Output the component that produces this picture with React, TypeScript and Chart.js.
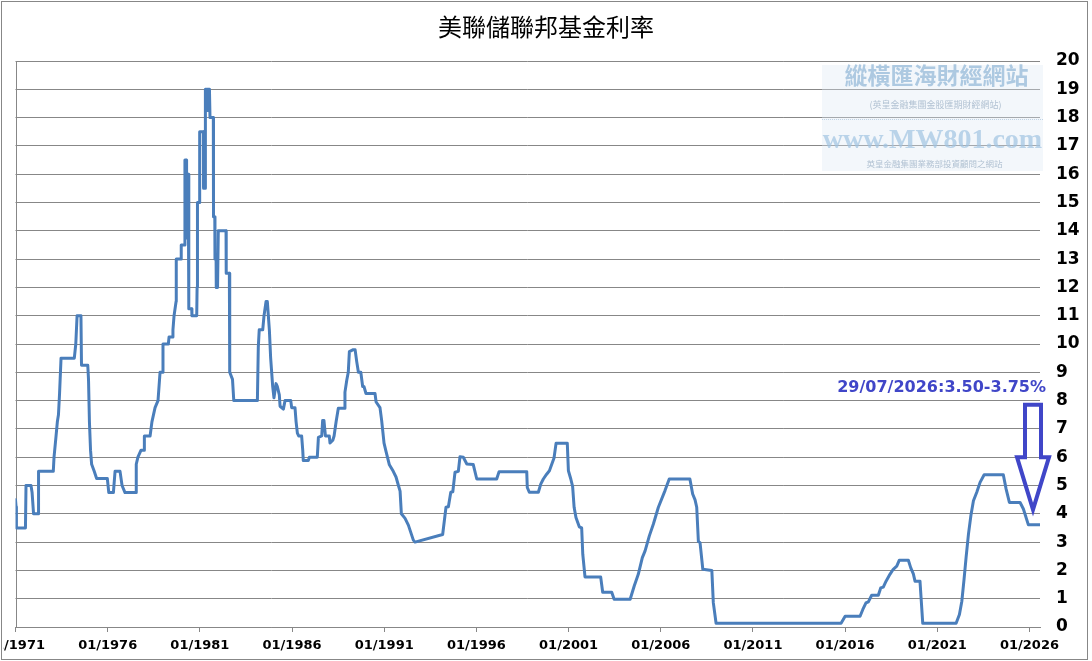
import React, { useEffect, useRef } from 'react';
import { Chart, registerables } from 'chart.js';

Chart.register(...registerables);

const TITLE = '美聯儲聯邦基金利率';
const ANNOTATION = '29/07/2026:3.50-3.75%';
const WM_TITLE = '縱橫匯海財經網站';
const WM_SUB1 = '(英皇金融集團金股匯期財經網站)';
const WM_URL = 'www.MW801.com';
const WM_SUB2 = '英皇金融集團業務部投資顧問之網站';

const tickYears = [1971, 1976, 1981, 1986, 1991, 1996, 2001, 2006, 2011, 2016, 2021, 2026];
const xMin = 1971;
const xMax = 2026.57;
const yMin = 0;
const yMax = 20;

// decimal years
const dates = [
  1971.0, 1971.03, 1971.05, 1971.54, 1971.57, 1971.84, 1971.9, 1971.98, 1972.24, 1972.25,
  1973.05, 1973.09, 1973.2, 1973.27, 1973.33, 1973.39, 1973.47, 1974.19, 1974.27, 1974.34,
  1974.55, 1974.58, 1974.92, 1974.96, 1975.01, 1975.07, 1975.13, 1975.27, 1975.4, 1975.98,
  1976.06, 1976.31, 1976.4, 1976.67, 1976.78, 1976.94, 1977.54, 1977.55, 1977.64, 1977.81,
  1977.97, 1977.99, 1978.3, 1978.4, 1978.57, 1978.73, 1978.84, 1978.98, 1979.0, 1979.29,
  1979.33, 1979.53, 1979.54, 1979.6, 1979.71, 1979.72, 1979.98, 1979.99, 1980.16, 1980.19,
  1980.25, 1980.28, 1980.32, 1980.37, 1980.4, 1980.56, 1980.57, 1980.83, 1980.85, 1980.87,
  1980.97, 1980.99, 1981.19, 1981.2, 1981.28, 1981.3, 1981.36, 1981.39, 1981.41, 1981.52,
  1981.55, 1981.73, 1981.74, 1981.81, 1981.82, 1981.88, 1981.89, 1981.96, 1982.0, 1982.42,
  1982.43, 1982.6, 1982.62, 1982.77, 1982.84, 1984.12, 1984.17, 1984.22, 1984.41, 1984.48,
  1984.59, 1984.66, 1984.77, 1984.84, 1984.95, 1985.02, 1985.13, 1985.2, 1985.31, 1985.35,
  1985.53, 1985.62, 1985.93, 1985.98, 1986.16, 1986.22, 1986.29, 1986.36, 1986.52, 1986.58,
  1986.61, 1986.88, 1986.94, 1987.37, 1987.43, 1987.61, 1987.66, 1987.73, 1987.81, 1988.02,
  1988.06, 1988.21, 1988.28, 1988.39, 1988.51, 1988.84, 1988.87, 1988.97, 1989.05, 1989.11,
  1989.32, 1989.42, 1989.51, 1989.6, 1989.73, 1989.83, 1989.9, 1990.01, 1990.5, 1990.56,
  1990.77, 1990.86, 1990.99, 1991.1, 1991.28, 1991.49, 1991.64, 1991.77, 1991.86, 1991.93,
  1992.13, 1992.31, 1992.58, 1992.67, 1994.17, 1994.35, 1994.48, 1994.61, 1994.72, 1994.84,
  1995.02, 1995.11, 1995.29, 1995.48, 1995.83, 1996.02, 1997.1, 1997.23, 1998.73, 1998.76,
  1998.87, 1999.36, 1999.49, 1999.63, 1999.81, 1999.96, 2000.21, 2000.32, 2000.93, 2000.99,
  2001.12, 2001.22, 2001.3, 2001.4, 2001.58, 2001.71, 2001.77, 2001.89, 2002.74, 2002.85,
  2003.34, 2003.47, 2004.34, 2004.56, 2004.78, 2005.0, 2005.15, 2005.38, 2005.6, 2005.87,
  2006.23, 2006.46, 2007.58, 2007.73, 2007.86, 2007.95, 2008.04, 2008.13, 2008.28, 2008.77,
  2008.85, 2009.0, 2015.78, 2016.0, 2016.81, 2016.96, 2017.13, 2017.26, 2017.44, 2017.8,
  2017.93, 2018.07, 2018.22, 2018.43, 2018.61, 2018.8, 2018.94, 2019.43, 2019.56, 2019.7,
  2019.79, 2020.06, 2020.21, 2022.02, 2022.2, 2022.33, 2022.45, 2022.56, 2022.69, 2022.82,
  2022.96, 2023.14, 2023.32, 2023.54, 2024.58, 2024.73, 2024.91, 2025.49, 2025.67, 2025.94,
  2026.57,
];

// federal funds rate, %
const rates = [
  4.5, 4.25, 3.5, 3.5, 5.0, 5.0, 4.75, 4.0, 4.0, 5.5,
  5.5, 6.0, 6.75, 7.25, 7.5, 8.25, 9.5, 9.5, 10.0, 11.0,
  11.0, 9.25, 9.25, 8.75, 7.25, 6.25, 5.75, 5.5, 5.25, 5.25,
  4.75, 4.75, 5.5, 5.5, 5.0, 4.75, 4.75, 5.75, 6.0, 6.25,
  6.25, 6.75, 6.75, 7.25, 7.75, 8.0, 9.0, 9.0, 10.0, 10.0,
  10.25, 10.25, 10.5, 11.0, 11.5, 13.0, 13.0, 13.5, 13.5, 16.5,
  16.5, 13.75, 16.0, 16.0, 11.25, 11.25, 11.0, 11.0, 12.0, 15.0,
  15.0, 17.5, 17.5, 15.5, 15.5, 19.0, 19.0, 18.25, 19.0, 19.0,
  18.0, 18.0, 14.5, 14.5, 13.0, 13.0, 12.0, 12.0, 14.0, 14.0,
  12.5, 12.5, 9.0, 8.75, 8.0, 8.0, 9.9, 10.5, 10.5, 11.0,
  11.5, 11.5, 10.5, 9.5, 8.5, 8.1, 8.6, 8.5, 8.2, 7.8,
  7.7, 8.0, 8.0, 7.75, 7.75, 7.25, 6.85, 6.75, 6.75, 6.25,
  5.88, 5.88, 6.0, 6.0, 6.7, 6.75, 7.3, 7.3, 6.75, 6.75,
  6.5, 6.6, 6.75, 7.25, 7.73, 7.73, 8.3, 8.73, 9.0, 9.73,
  9.8, 9.8, 9.37, 9.0, 9.0, 8.5, 8.5, 8.25, 8.25, 7.95,
  7.75, 7.3, 6.5, 6.2, 5.73, 5.5, 5.3, 5.0, 4.8, 4.0,
  3.84, 3.6, 3.07, 3.0, 3.27, 4.23, 4.25, 4.76, 4.78, 5.47,
  5.5, 6.02, 6.0, 5.76, 5.74, 5.23, 5.23, 5.49, 5.49, 4.93,
  4.76, 4.76, 5.05, 5.23, 5.4, 5.52, 5.97, 6.49, 6.49, 5.52,
  5.23, 4.96, 4.23, 3.87, 3.54, 3.5, 2.57, 1.77, 1.77, 1.23,
  1.23, 0.98, 0.98, 1.45, 1.86, 2.45, 2.69, 3.22, 3.64, 4.23,
  4.82, 5.23, 5.23, 4.7, 4.49, 4.23, 3.02, 2.98, 2.04, 2.0,
  0.86, 0.13, 0.13, 0.38, 0.38, 0.62, 0.85, 0.89, 1.12, 1.12,
  1.38, 1.41, 1.62, 1.86, 2.04, 2.15, 2.36, 2.36, 2.09, 1.88,
  1.62, 1.62, 0.13, 0.13, 0.44, 0.91, 1.68, 2.45, 3.28, 3.93,
  4.46, 4.76, 5.11, 5.38, 5.38, 4.88, 4.4, 4.4, 4.17, 3.61,
  3.61,
];

const W = 1092;
const H = 661;
const GRID = '#878787';
const LINE = '#4A7EBB';
const ANNO = '#4046C8';

const decorPlugin = {
  id: 'decor',
  beforeDraw(chart: any) {
    const ctx = chart.ctx;
    ctx.save();
    ctx.fillStyle = '#ffffff';
    ctx.fillRect(0, 0, chart.width, chart.height);
    ctx.restore();
  },
  beforeDatasetsDraw(chart: any) {
    const ctx = chart.ctx;
    const a = chart.chartArea;
    ctx.save();
    // left axis line
    ctx.strokeStyle = GRID;
    ctx.lineWidth = 1;
    ctx.beginPath();
    ctx.moveTo(Math.round(a.left) + 0.5, a.top);
    ctx.lineTo(Math.round(a.left) + 0.5, a.bottom);
    ctx.stroke();

    // watermark
    const bx = a.right - 218;
    const by = a.top + 4;
    const bw = 221;
    const bh = 106;
    ctx.fillStyle = 'rgba(222,233,243,0.35)';
    ctx.fillRect(bx, by, bw, bh);
    const cx = bx + bw / 2 + 4;
    ctx.textAlign = 'center';
    ctx.textBaseline = 'middle';
    ctx.fillStyle = 'rgba(150,185,216,0.75)';
    ctx.font = 'bold 23px "Noto Sans CJK TC"';
    ctx.fillText(WM_TITLE, cx, by + 10);
    ctx.fillStyle = 'rgba(160,180,200,0.8)';
    ctx.font = '9px "Noto Sans CJK TC"';
    ctx.fillText(WM_SUB1, cx - 1, by + 40);
    ctx.strokeStyle = 'rgba(170,195,220,0.7)';
    ctx.setLineDash([1, 1]);
    ctx.beginPath();
    ctx.moveTo(bx, by + 54.5);
    ctx.lineTo(bx + bw, by + 54.5);
    ctx.stroke();
    ctx.setLineDash([]);
    ctx.fillStyle = 'rgba(160,195,225,0.7)';
    ctx.font = 'bold 28px "Liberation Serif"';
    ctx.fillText(WM_URL, bx + bw / 2, by + 76);
    ctx.fillStyle = 'rgba(160,180,200,0.8)';
    ctx.font = '8.5px "Noto Sans CJK TC"';
    ctx.fillText(WM_SUB2, cx - 2, by + 99);
    ctx.restore();
  },
  afterDraw(chart: any) {
    const ctx = chart.ctx;
    const a = chart.chartArea;
    const ys = chart.scales.y;
    ctx.save();
    // title
    ctx.fillStyle = '#000000';
    ctx.font = '24px "Noto Sans CJK TC"';
    ctx.textAlign = 'center';
    ctx.textBaseline = 'middle';
    ctx.fillText(TITLE, W / 2, 27);

    // annotation text
    ctx.fillStyle = ANNO;
    ctx.font = 'bold 16px "DejaVu Sans"';
    ctx.textAlign = 'right';
    ctx.textBaseline = 'alphabetic';
    ctx.fillText(ANNOTATION, a.right + 6, ys.getPixelForValue(8.32));

    // hollow down arrow
    const r = a.right;
    const top = ys.getPixelForValue(7.85);
    const neck = ys.getPixelForValue(6.0);
    const tip = ys.getPixelForValue(4.15);
    ctx.strokeStyle = ANNO;
    ctx.lineWidth = 4;
    ctx.lineJoin = 'miter';
    ctx.beginPath();
    ctx.moveTo(r - 15, top);
    ctx.lineTo(r + 1, top);
    ctx.lineTo(r + 1, neck);
    ctx.lineTo(r + 9, neck);
    ctx.lineTo(r - 7, tip);
    ctx.lineTo(r - 23, neck);
    ctx.lineTo(r - 15, neck);
    ctx.closePath();
    ctx.stroke();

    // cover clipped label start and outer border
    ctx.fillStyle = '#ffffff';
    ctx.fillRect(0, a.bottom + 6, 3, 30);
    ctx.strokeStyle = GRID;
    ctx.lineWidth = 1;
    ctx.strokeRect(1.5, 1.5, 1086, 658);
    ctx.restore();
  },
};

export default function App() {
  const ref = useRef<HTMLCanvasElement | null>(null);

  useEffect(() => {
    document.body.style.margin = '0';
    const canvas = ref.current;
    if (!canvas) return;
    const points = dates.map((d, i) => ({ x: d, y: rates[i] }));
    const chart = new Chart(canvas, {
      type: 'line',
      data: {
        datasets: [
          {
            label: 'rate',
            data: points,
            borderColor: LINE,
            backgroundColor: LINE,
            borderWidth: 3,
            pointRadius: 0,
            pointHoverRadius: 0,
            tension: 0,
            fill: false,
            borderJoinStyle: 'round',
            borderCapStyle: 'round',
          },
        ],
      },
      options: {
        responsive: false,
        animation: false,
        events: [],
        layout: { padding: { left: 15.5, top: 61, right: 0, bottom: 0 } },
        plugins: {
          legend: { display: false },
          title: { display: false },
          tooltip: { enabled: false },
        },
        scales: {
          x: {
            type: 'linear',
            min: xMin,
            max: xMax,
            afterBuildTicks: (scale: any) => {
              scale.ticks = tickYears.map((v) => ({ value: v }));
            },
            afterFit: (scale: any) => {
              scale.height = H - 627;
              scale.paddingLeft = 0;
              scale.paddingRight = 0;
            },
            grid: {
              display: true,
              drawOnChartArea: false,
              drawTicks: true,
              tickLength: 5,
              color: GRID,
              lineWidth: 1,
            },
            border: { display: true, color: GRID, width: 1 },
            ticks: {
              autoSkip: false,
              maxRotation: 0,
              minRotation: 0,
              padding: 6,
              color: '#000000',
              font: { family: '"DejaVu Sans"', size: 13, weight: 'bold' },
              callback: (v: any) => '01/' + v,
            },
          },
          y: {
            type: 'linear',
            position: 'right',
            min: yMin,
            max: yMax,
            afterFit: (scale: any) => {
              scale.width = W - 1040;
              scale.paddingTop = 0;
              scale.paddingBottom = 0;
            },
            grid: {
              display: true,
              drawTicks: false,
              color: GRID,
              lineWidth: 1,
            },
            border: { display: false },
            ticks: {
              stepSize: 1,
              padding: 16,
              color: '#000000',
              font: { family: '"DejaVu Sans"', size: 17, weight: 'bold' },
            },
          },
        },
      },
      plugins: [decorPlugin],
    });
    return () => chart.destroy();
  }, []);

  return (
    <div style={{ width: W, height: H, position: 'relative' }}>
      <canvas ref={ref} width={W} height={H} style={{ display: 'block', width: W, height: H }} />
    </div>
  );
}
